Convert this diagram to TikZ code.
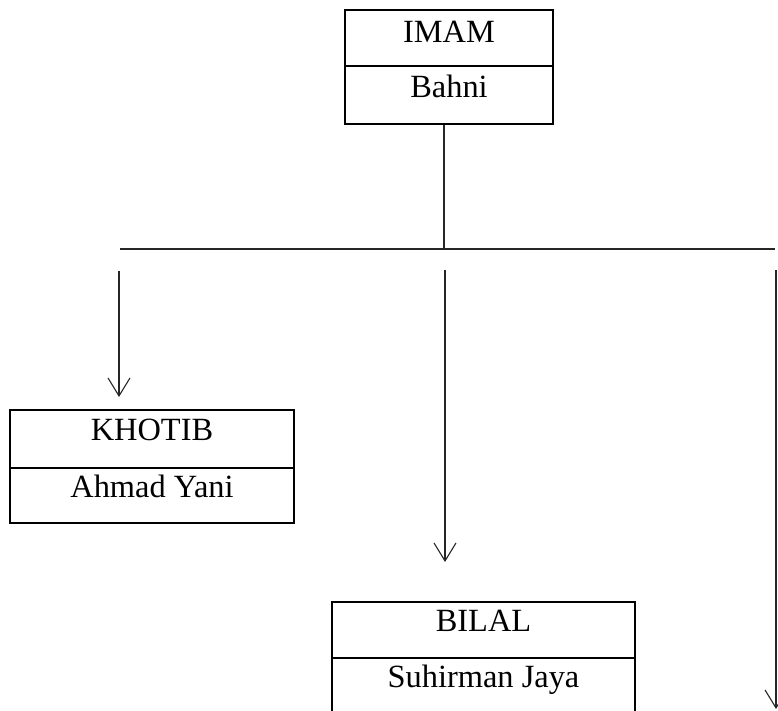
\documentclass[tikz,border=0pt]{standalone}
\usepackage{fontspec}
\setmainfont{Liberation Serif}
\usetikzlibrary{arrows.meta}
\begin{document}
\begin{tikzpicture}[x=1pt,y=-1pt,
  box/.style={draw=black,line width=2pt,rectangle,inner sep=0pt},
  lbl/.style={anchor=base,inner sep=0pt,font=\fontsize{32.4}{34}\selectfont},
  conn/.style={draw=black!85,line width=1.1pt},
  arr/.style={conn,-{Straight Barb[length=18pt,width=22pt,line width=1.1pt]}}]
\clip (0,0) rectangle (778,710);
% boxes
\node[box,minimum width=208pt,minimum height=114pt] (imam) at (449,67) {};
\node[box,minimum width=284pt,minimum height=113pt] (khotib) at (152,466.5) {};
\node[box,minimum width=303pt,minimum height=114pt] (bilal) at (483.5,659) {};
% dividers
\draw[line width=2pt] (imam.west |- 0,66) -- (imam.east |- 0,66);
\draw[line width=2pt] (khotib.west |- 0,468) -- (khotib.east |- 0,468);
\draw[line width=2pt] (bilal.west |- 0,658) -- (bilal.east |- 0,658);
% texts
\node[lbl] (t1) at (449,42) {IMAM};
\node[lbl] (t2) at (449,97) {Bahni};
\node[lbl] (t3) at (152,440) {KHOTIB};
\node[lbl] (t4) at (152,497) {Ahmad Yani};
\node[lbl] (t5) at (483.5,631) {BILAL};
\node[lbl] (t6) at (483.5,687) {Suhirman Jaya};
% connectors
\coordinate (hl) at (120,249);
\coordinate (hr) at (775,249);
\coordinate (hm) at (444,249);
\draw[conn] (imam.south -| hm) -- (hm);
\draw[conn] (hl) -- (hr);
\coordinate (a1) at (119,271);
\coordinate (a1e) at (119,397);
\coordinate (a2) at (445,270);
\coordinate (a2e) at (445,562);
\coordinate (a3) at (776,270);
\coordinate (a3e) at (776,709);
\draw[arr] (a1) -- (a1e);
\draw[arr] (a2) -- (a2e);
\draw[arr] (a3) -- (a3e);
\end{tikzpicture}
\end{document}
